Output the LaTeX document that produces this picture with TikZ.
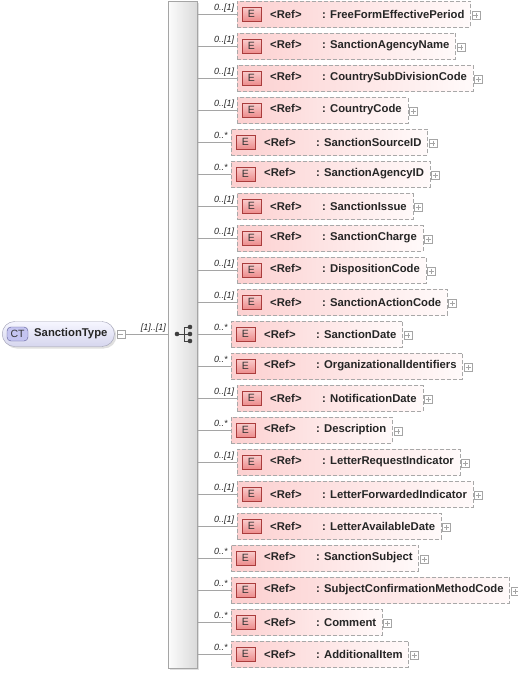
\documentclass[tikz,border=0pt]{standalone}
\usepackage{fontspec}
\setmainfont{Liberation Sans}
\usetikzlibrary{shadows}
\newcommand{\myelfont}{\fontsize{11.3}{13}\selectfont\bfseries}
\newcommand{\mymultfont}{\fontsize{9}{10}\selectfont\itshape}
\definecolor{connc}{RGB}{165,165,165}
\definecolor{dashc}{RGB}{168,168,168}
\definecolor{pinkl}{RGB}{252,208,208}
\definecolor{pinkr}{RGB}{255,250,250}
\definecolor{ebt}{RGB}{250,205,205}
\definecolor{ebb}{RGB}{236,140,140}
\definecolor{ebd}{RGB}{170,60,60}
\definecolor{ctt}{RGB}{246,246,255}
\definecolor{ctb}{RGB}{214,214,238}
\definecolor{ctd}{RGB}{160,160,180}
\definecolor{ctbadge}{RGB}{196,196,240}
\definecolor{ctbadged}{RGB}{90,90,150}
\definecolor{barl}{RGB}{252,252,252}
\definecolor{barr}{RGB}{218,218,218}
\definecolor{bard}{RGB}{165,165,165}
\tikzset{
  elbox/.style={draw=dashc, dash pattern=on 4pt off 2pt, left color=pinkl, right color=pinkr,
    minimum height=26pt, inner sep=0pt, anchor=west, font=\myelfont, text=black!85},
  ebadge/.style={draw=ebd, top color=ebt, bottom color=ebb, minimum width=19pt, minimum height=14pt,
    inner sep=0pt, font=\fontsize{10.5}{12}\selectfont, text=black!80},
  multlbl/.style={inner sep=0pt, font=\mymultfont, text=black!85},
  conn/.style={draw=connc, line width=0.8pt},
  plusbox/.style={draw=connc, fill=white, minimum size=8pt, inner sep=0pt, line width=0.5pt,
    path picture={\draw[connc, line width=0.5pt] ([xshift=1.5pt]path picture bounding box.west) -- ([xshift=-1.5pt]path picture bounding box.east)
      ([yshift=-1.5pt]path picture bounding box.north) -- ([yshift=1.5pt]path picture bounding box.south);}},
  minusbox/.style={draw=connc, fill=white, minimum size=8pt, inner sep=0pt, line width=0.5pt,
    path picture={\draw[connc, line width=0.5pt] ([xshift=1.5pt]path picture bounding box.west) -- ([xshift=-1.5pt]path picture bounding box.east);}},
  seqbar/.style={draw=bard, left color=barl, right color=barr, minimum width=29pt, minimum height=667pt,
    inner sep=0pt, drop shadow={opacity=0.25, shadow xshift=2pt, shadow yshift=-2pt}},
  ctnode/.style={draw=ctd, top color=ctt, bottom color=ctb, rounded corners=12.5pt, minimum height=25pt,
    inner xsep=0pt, inner ysep=0pt, font=\myelfont, text=black!85, anchor=west,
    drop shadow={opacity=0.25, shadow xshift=2pt, shadow yshift=-2pt}},
  ctbadgestyle/.style={draw=ctbadged, fill=ctbadge, rounded corners=4pt, minimum width=21pt, minimum height=14pt,
    inner sep=0pt, font=\fontsize{10.5}{12}\selectfont, text=black!80},
  seqdot/.style={fill=black!75}
}
\begin{document}
\begin{tikzpicture}[x=1pt,y=-1pt]
\useasboundingbox (0,0) rectangle (518,673);
% sequence bar
\node[seqbar] (bar) at (182.5,334.5) {};
% CT node
\node[ctnode] (ct) at (2,334) {\hspace*{32pt}SanctionType\hspace*{7pt}};
\node[ctbadgestyle] (ctb) at (17.5,334) {CT};
\node[minusbox, anchor=west, xshift=2pt] (mn) at (ct.east) {};
\draw[conn] (mn.east) -- (bar.west |- mn.east);
\node[multlbl, anchor=base east] (ctm) at (166,330.5) {[1]..[1]};
% sequence symbol
\coordinate (s0) at (177,334);
\coordinate (sv) at (184,334);
\coordinate (s1) at (190,327);
\coordinate (s2) at (190,334);
\coordinate (s3) at (190,341);
\draw[black!75, line width=0.8pt] (s0) -- (sv) (sv |- s1) -- (sv |- s3)
  (sv |- s1) -- (s1) (sv) -- (s2) (sv |- s3) -- (s3);
\fill[seqdot] (s0) circle[radius=2.3pt];
\fill[seqdot] (s1) circle[radius=2.3pt];
\fill[seqdot] (s2) circle[radius=2.3pt];
\fill[seqdot] (s3) circle[radius=2.3pt];
% elements
\foreach \n/\m [count=\i from 0] in {
  FreeFormEffectivePeriod/1, SanctionAgencyName/1, CountrySubDivisionCode/1, CountryCode/1,
  SanctionSourceID/0, SanctionAgencyID/0, SanctionIssue/1, SanctionCharge/1,
  DispositionCode/1, SanctionActionCode/1, SanctionDate/0, OrganizationalIdentifiers/0,
  NotificationDate/1, Description/0, LetterRequestIndicator/1, LetterForwardedIndicator/1,
  LetterAvailableDate/1, SanctionSubject/0, SubjectConfirmationMethodCode/0, Comment/0, AdditionalItem/0}
{
  \pgfmathsetmacro{\yy}{14+32*\i}
  \pgfmathsetmacro{\L}{\m==1 ? 237 : 231}
  \node[elbox] (e\i) at (\L,\yy) {\hspace*{33pt}\makebox[52pt][l]{<Ref>}: \n\hspace*{6pt}};
  \node[ebadge] (E\i) at (\L+14.5,\yy) {E};
  \node[plusbox, anchor=west, xshift=1pt, yshift=-1pt] (p\i) at (e\i.east) {};
  \draw[conn] (bar.east |- e\i.west) -- (e\i.west);
  \node[multlbl, anchor=base west] (m\i) at (214,\yy-3.5) {\ifnum\m=1 0..[1]\else 0..*\fi};
}
\end{tikzpicture}
\end{document}
